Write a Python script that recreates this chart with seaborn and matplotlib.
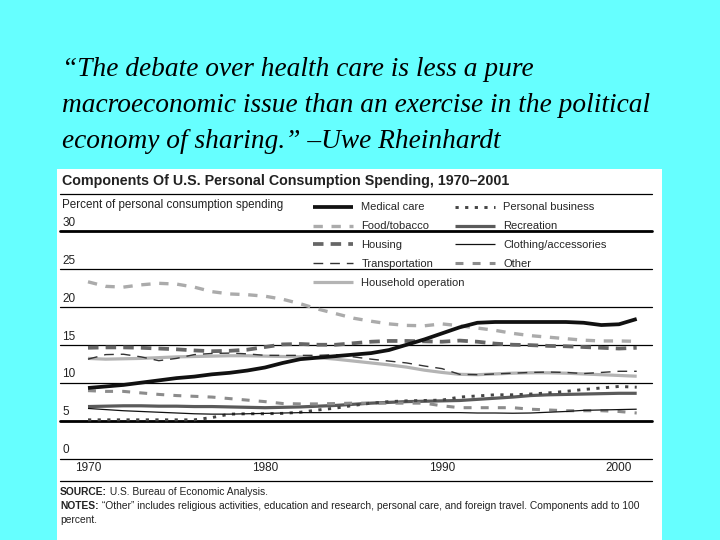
import matplotlib
matplotlib.use("Agg")
import matplotlib.pyplot as plt
import seaborn as sns
import pandas as pd
from matplotlib.lines import Line2D
from matplotlib.patches import Rectangle

# ---------------- data ----------------
years = list(range(1970, 2002))
medical = [9.3, 9.5, 9.7, 10.0, 10.3, 10.6, 10.8, 11.1, 11.3, 11.6,
           12.0, 12.6, 13.1, 13.3, 13.5, 13.7, 13.9, 14.3, 15.0, 15.7,
           16.5, 17.3, 17.9, 18.0, 18.0, 18.0, 18.0, 18.0, 17.9, 17.6,
           17.7, 18.4]
food = [23.3, 22.7, 22.6, 22.9, 23.1, 23.0, 22.6, 22.0, 21.7, 21.6,
        21.4, 21.0, 20.4, 19.7, 19.1, 18.5, 18.1, 17.75, 17.55, 17.5,
        17.75, 17.5, 17.2, 16.9, 16.5, 16.2, 16.0, 15.8, 15.6, 15.5,
        15.5, 15.45]
housing = [14.6, 14.65, 14.65, 14.6, 14.5, 14.4, 14.25, 14.15, 14.2, 14.35,
           14.7, 15.05, 15.1, 15.0, 15.0, 15.2, 15.4, 15.5, 15.5, 15.45,
           15.4, 15.55, 15.4, 15.15, 15.0, 14.95, 14.85, 14.8, 14.7, 14.6,
           14.5, 14.6]
transport = [13.1, 13.7, 13.75, 13.4, 12.9, 13.2, 13.7, 13.85, 13.9, 13.8,
             13.6, 13.6, 13.6, 13.6, 13.7, 13.4, 13.1, 12.85, 12.6, 12.2,
             11.85, 11.1, 11.05, 11.15, 11.25, 11.35, 11.4, 11.35, 11.2, 11.35,
             11.5, 11.5]
household = [13.2, 13.1, 13.15, 13.2, 13.3, 13.4, 13.45, 13.5, 13.55, 13.55,
             13.5, 13.45, 13.4, 13.3, 13.1, 12.85, 12.6, 12.35, 12.05, 11.65,
             11.35, 11.1, 11.05, 11.15, 11.25, 11.3, 11.3, 11.25, 11.15, 11.05,
             10.95, 10.85]
personal = [5.1, 5.1, 5.1, 5.1, 5.1, 5.1, 5.1, 5.4, 5.85, 5.9,
            5.9, 5.95, 6.1, 6.4, 6.65, 7.0, 7.3, 7.5, 7.6, 7.65,
            7.7, 8.1, 8.25, 8.4, 8.4, 8.5, 8.65, 8.85, 9.1, 9.3,
            9.5, 9.4]
recreation = [6.85, 6.9, 6.95, 6.95, 6.9, 6.9, 6.85, 6.85, 6.8, 6.75,
              6.7, 6.75, 6.8, 6.9, 7.0, 7.15, 7.3, 7.4, 7.5, 7.55,
              7.6, 7.65, 7.8, 7.95, 8.1, 8.3, 8.4, 8.45, 8.5, 8.55,
              8.6, 8.6]
clothing = [6.6, 6.45, 6.3, 6.2, 6.1, 6.0, 5.9, 5.85, 5.85, 5.9,
            5.95, 6.0, 6.05, 6.05, 6.05, 6.05, 6.05, 6.05, 6.05, 6.05,
            6.05, 6.05, 6.0, 6.0, 5.97, 6.0, 6.1, 6.2, 6.35, 6.4,
            6.45, 6.5]
other = [8.95, 8.85, 8.85, 8.65, 8.45, 8.3, 8.2, 8.1, 7.9, 7.7,
         7.5, 7.25, 7.2, 7.2, 7.25, 7.3, 7.3, 7.3, 7.3, 7.3,
         6.95, 6.7, 6.7, 6.7, 6.7, 6.5, 6.4, 6.3, 6.3, 6.3,
         6.2, 6.0]

series_names = ["Medical care", "Food/tobacco", "Housing", "Transportation",
                "Household operation", "Personal business", "Recreation",
                "Clothing/accessories", "Other"]
series_values = [medical, food, housing, transport, household,
                 personal, recreation, clothing, other]

y_ticks = [0, 5, 10, 15, 20, 25, 30]
x_ticks = [1970, 1980, 1990, 2000]
x_labels = ["1970", "1980", "1990", "2000"]

title = "Components Of U.S. Personal Consumption Spending, 1970\u20132001"
ylabel = "Percent of personal consumption spending"
quote = ["\u201cThe debate over health care is less a pure",
         "macroeconomic issue than an exercise in the political",
         "economy of sharing.\u201d \u2013Uwe Rheinhardt"]
source_head, source_body = "SOURCE:", " U.S. Bureau of Economic Analysis."
notes_head = "NOTES:"
notes_body = (" \u201cOther\u201d includes religious activities, education and research, "
              "personal care, and foreign travel. Components add to 100")
notes_line2 = "percent."

df = pd.DataFrame({"year": years})
for n, v in zip(series_names, series_values):
    df[n] = v

# ---------------- styles ----------------
styles = {
    "Medical care":        dict(color="#111111", lw=2.7, ls="-", z=9),
    "Food/tobacco":        dict(color="#ababab", lw=2.4, ls=(0, (2.8, 2.6)), z=4),
    "Housing":             dict(color="#666666", lw=2.7, ls=(0, (2.8, 1.9)), z=5),
    "Transportation":      dict(color="#333333", lw=1.0, ls=(0, (7.0, 5.0)), z=7),
    "Household operation": dict(color="#b4b4b4", lw=2.3, ls="-", z=3),
    "Personal business":   dict(color="#444444", lw=2.1, ls=(0, (1.1, 2.2)), z=6),
    "Recreation":          dict(color="#5a5a5a", lw=2.3, ls="-", z=4),
    "Clothing/accessories": dict(color="#111111", lw=0.9, ls="-", z=8),
    "Other":               dict(color="#8c8c8c", lw=2.2, ls=(0, (2.6, 3.0)), z=5),
}

sns.set_theme(style="white")
plt.rcParams['font.family'] = ['Liberation Sans', 'DejaVu Sans']

W, H = 720, 540
fig = plt.figure(figsize=(7.2, 5.4), dpi=100, facecolor='#66FFFF')


def fx(px):
    return px / W


def fy(py):
    return 1 - py / H


# white panel (behind everything)
fig.patches.append(Rectangle((fx(57), 0), fx(662) - fx(57), fy(169),
                             transform=fig.transFigure, facecolor='white',
                             edgecolor='none', zorder=-10))

# axes geometry: x pixel 60..652, y pixel 231 (30) .. 458.5 (0)
ax_l, ax_r, ax_t, ax_b = 60, 652, 231, 458.5
ax = fig.add_axes([fx(ax_l), fy(ax_b), fx(ax_r) - fx(ax_l), fy(ax_t) - fy(ax_b)])
ax.set_zorder(1)
ax.set_facecolor('none')
px_per_year = 17.7
ax.set_xlim(1970 + (ax_l - 88) / px_per_year, 1970 + (ax_r - 88) / px_per_year)
ax.set_ylim(0, 30)
for s in ax.spines.values():
    s.set_visible(False)

# gridlines
for v in y_ticks:
    lw = 2.0 if v in (5, 30) else 0.9
    ax.axhline(v, color='black', lw=lw, zorder=1, clip_on=False)
    ax.annotate(str(v), xy=(0, v), xycoords=('axes fraction', 'data'),
                xytext=(1.5, 1.6), textcoords='offset points',
                ha='left', va='bottom', fontsize=8.5, color='#222222')
ax.set_yticks([])

handles = {}
for n in series_names:
    st = styles[n]
    sns.lineplot(data=df, x="year", y=n, ax=ax, color=st["color"], lw=st["lw"],
                 linestyle=st["ls"], legend=False, label=n, zorder=st["z"],
                 dash_capstyle='butt', solid_capstyle='butt')
    handles[n] = ax.get_lines()[-1]

ax.set_xlabel("")
ax.set_ylabel("")
ax.set_xticks(x_ticks)
ax.set_xticklabels(x_labels, fontsize=8.5, color='#222222')
ax.tick_params(axis='x', length=0, pad=2.8)
ax.tick_params(axis='y', length=0)

# legends (two columns)
col1 = series_names[:5]
col2 = series_names[5:]
leg_kw = dict(loc='upper left', bbox_transform=fig.transFigure, frameon=False,
              fontsize=8, handlelength=3.6, handletextpad=0.75, labelspacing=0.8,
              borderpad=0, borderaxespad=0)
leg1 = ax.legend([handles[n] for n in col1], col1,
                 bbox_to_anchor=(fx(313), fy(202.5)), **leg_kw)
ax.add_artist(leg1)
leg2 = ax.legend([handles[n] for n in col2], col2,
                 bbox_to_anchor=(fx(455), fy(202.5)), **leg_kw)

# rules
fig.add_artist(Line2D([fx(60), fx(652)], [fy(194), fy(194)], color='black', lw=0.9))
fig.add_artist(Line2D([fx(60), fx(652)], [fy(481), fy(481)], color='black', lw=0.9))

# texts
fig.text(fx(62), fy(181), title, fontsize=10.3, fontweight='bold', va='center',
         color='#222222')
fig.text(fx(62), fy(205), ylabel, fontsize=8.4, va='center', color='#222222')
for i, line in enumerate(quote):
    fig.text(fx(62), fy(69 + 36 * i), line, fontsize=19.7, style='italic',
             family=['Liberation Serif', 'DejaVu Serif'], va='center', color='black')

renderer = fig.canvas.get_renderer()


def two_part(xpx, ypx, head, body, fs=7.4):
    t = fig.text(fx(xpx), fy(ypx), head, fontsize=fs, fontweight='bold',
                 va='center', color='#222222')
    bb = t.get_window_extent(renderer=renderer)
    fig.text(bb.x1 / W, fy(ypx), body, fontsize=fs, va='center', color='#222222')


two_part(60, 492, source_head, source_body)
two_part(60, 506, notes_head, notes_body)
fig.text(fx(60), fy(520), notes_line2, fontsize=7.4, va='center', color='#222222')

fig.savefig("out.png", dpi=100, facecolor=fig.get_facecolor())
